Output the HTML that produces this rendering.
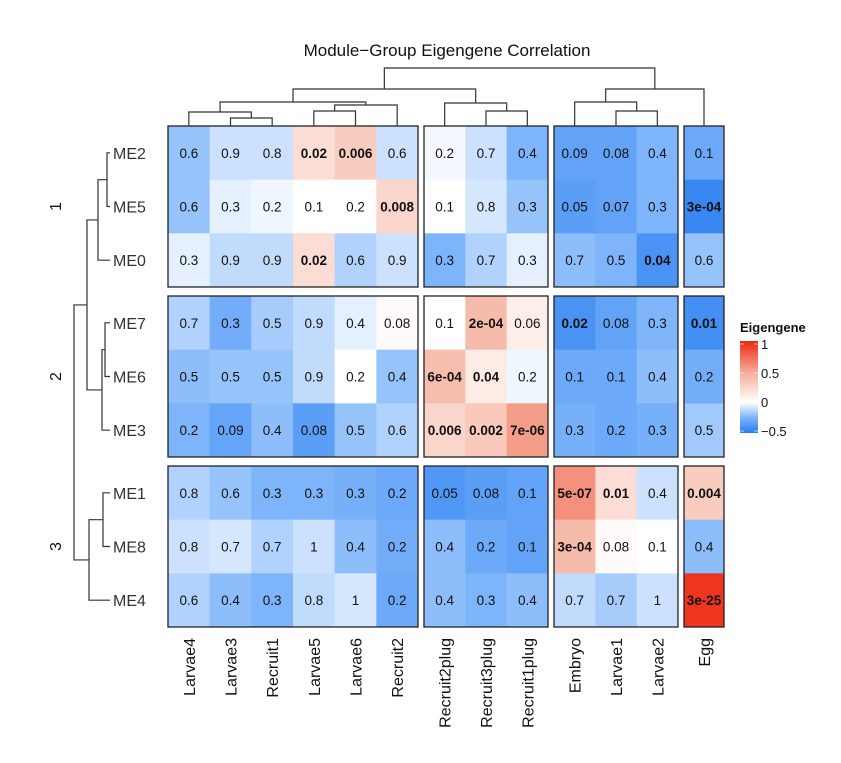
<!DOCTYPE html>
<html><head><meta charset="utf-8"><style>
body{margin:0;background:#fff;}
text{font-family:"Liberation Sans",Arial,sans-serif;}
</style></head><body>
<svg id="chart" width="841" height="758" xmlns="http://www.w3.org/2000/svg">
<text x="447" y="56" font-size="17" text-anchor="middle" fill="#111">Module−Group Eigengene Correlation</text>
<g id="cells"></g><g id="frames"></g><g id="dend" stroke="#333" stroke-width="1.2" fill="none"></g><g id="labels"></g>
<g>
<defs><linearGradient id="lg" x1="0" y1="1" x2="0" y2="0">
<stop offset="0" stop-color="rgb(40,125,240)"/><stop offset="0.167" stop-color="rgb(125,180,250)"/><stop offset="0.333" stop-color="#fff"/><stop offset="0.667" stop-color="rgb(245,170,150)"/><stop offset="1" stop-color="rgb(238,40,15)"/></linearGradient></defs>
<text x="740" y="332" font-size="13" font-weight="bold" fill="#111">Eigengene</text>
<rect x="740" y="341" width="18" height="92" fill="url(#lg)"/>
<g stroke="#fff" stroke-opacity="0.6"><line x1="740" x2="744" y1="344" y2="344"/><line x1="754" x2="758" y1="344" y2="344"/><line x1="740" x2="744" y1="373" y2="373"/><line x1="754" x2="758" y1="373" y2="373"/><line x1="740" x2="744" y1="402" y2="402"/><line x1="754" x2="758" y1="402" y2="402"/><line x1="740" x2="744" y1="431" y2="431"/><line x1="754" x2="758" y1="431" y2="431"/></g>
<g font-size="13" fill="#111"><text x="761" y="349">1</text><text x="761" y="378">0.5</text><text x="761" y="407">0</text><text x="761" y="436">−0.5</text></g>
</g>
</svg>
<script>
const cols=["Larvae4","Larvae3","Recruit1","Larvae5","Larvae6","Recruit2","Recruit2plug","Recruit3plug","Recruit1plug","Embryo","Larvae1","Larvae2","Egg"];
const rows=["ME2","ME5","ME0","ME7","ME6","ME3","ME1","ME8","ME4"];
const corr=[
[-0.2,-0.1,-0.1,0.2,0.3,-0.1,-0.02,-0.1,-0.25,-0.33,-0.33,-0.25,-0.3],
[-0.2,-0.05,-0.03,0,0,0.25,0,-0.08,-0.2,-0.35,-0.33,-0.25,-0.45],
[-0.05,-0.12,-0.12,0.2,-0.15,-0.1,-0.25,-0.15,-0.05,-0.22,-0.25,-0.4,-0.2],
[-0.15,-0.28,-0.17,-0.12,-0.05,0.03,0,0.4,0.1,-0.4,-0.33,-0.25,-0.42],
[-0.22,-0.2,-0.2,-0.12,0,-0.2,0.38,0.12,-0.03,-0.3,-0.3,-0.22,-0.28],
[-0.25,-0.32,-0.22,-0.35,-0.2,-0.15,0.25,0.32,0.55,-0.27,-0.3,-0.27,-0.18],
[-0.15,-0.2,-0.25,-0.25,-0.27,-0.3,-0.38,-0.35,-0.33,0.6,0.2,-0.1,0.3],
[-0.1,-0.08,-0.15,-0.1,-0.22,-0.28,-0.22,-0.3,-0.33,0.4,0.03,0,-0.22],
[-0.15,-0.22,-0.25,-0.12,-0.08,-0.3,-0.22,-0.25,-0.22,-0.12,-0.17,-0.1,0.95]];
const pvals=[
["0.6","0.9","0.8","0.02","0.006","0.6","0.2","0.7","0.4","0.09","0.08","0.4","0.1"],
["0.6","0.3","0.2","0.1","0.2","0.008","0.1","0.8","0.3","0.05","0.07","0.3","3e-04"],
["0.3","0.9","0.9","0.02","0.6","0.9","0.3","0.7","0.3","0.7","0.5","0.04","0.6"],
["0.7","0.3","0.5","0.9","0.4","0.08","0.1","2e-04","0.06","0.02","0.08","0.3","0.01"],
["0.5","0.5","0.5","0.9","0.2","0.4","6e-04","0.04","0.2","0.1","0.1","0.4","0.2"],
["0.2","0.09","0.4","0.08","0.5","0.6","0.006","0.002","7e-06","0.3","0.2","0.3","0.5"],
["0.8","0.6","0.3","0.3","0.3","0.2","0.05","0.08","0.1","5e-07","0.01","0.4","0.004"],
["0.8","0.7","0.7","1","0.4","0.2","0.4","0.2","0.1","3e-04","0.08","0.1","0.4"],
["0.6","0.4","0.3","0.8","1","0.2","0.4","0.3","0.4","0.7","0.7","1","3e-25"]];
const colBlocks=[[168,418,6],[424,548,3],[554,678,3],[684,724,1]];
const rowBlocks=[[126,287,3],[296,457,3],[466,627,3]];
const NS="http://www.w3.org/2000/svg";
function mk(t,a,p){const e=document.createElementNS(NS,t);for(const k in a)e.setAttribute(k,a[k]);p.appendChild(e);return e;}
const colX=[],colW=[];colBlocks.forEach(b=>{const w=(b[1]-b[0])/b[2];for(let i=0;i<b[2];i++){colX.push(b[0]+i*w);colW.push(w);}});
const rowY=[],rowH=[];rowBlocks.forEach(b=>{const h=(b[1]-b[0])/b[2];for(let i=0;i<b[2];i++){rowY.push(b[0]+i*h);rowH.push(h);}});
const stops=[[-0.5,[40,125,240]],[-0.25,[125,180,250]],[0,[255,255,255]],[0.5,[245,170,150]],[1,[238,40,15]]];
function color(v){v=Math.max(-0.5,Math.min(1,v));for(let i=0;i<stops.length-1;i++){const a=stops[i],b=stops[i+1];if(v<=b[0]){const t=(v-a[0])/(b[0]-a[0]);return 'rgb('+a[1].map((c,j)=>Math.round(c+(b[1][j]-c)*t)).join(',')+')';}}}
const cg=document.getElementById('cells'),fg=document.getElementById('frames'),lg=document.getElementById('labels'),dg=document.getElementById('dend');
rows.forEach((r,i)=>cols.forEach((c,j)=>{
 const rc=mk('rect',{x:colX[j],y:rowY[i],width:colW[j]+0.5,height:rowH[i]+0.5,fill:color(corr[i][j])},cg);
 
 
 const p=pvals[i][j];const bold=parseFloat(p)<0.05;
 const t=mk('text',{x:colX[j]+colW[j]/2,y:rowY[i]+rowH[i]/2+5,'font-size':13.5,'text-anchor':'middle',fill:'#111','font-weight':bold?'bold':'normal'},cg);
 t.textContent=p;
 
 
}));
rowBlocks.forEach(rb=>colBlocks.forEach(cb=>{const f=mk('rect',{x:cb[0],y:rb[0],width:cb[1]-cb[0],height:rb[1]-rb[0],fill:'none',stroke:'#222','stroke-width':1.3},fg);
 
 }));
rows.forEach((r,i)=>{const t=mk('text',{x:113,y:rowY[i]+rowH[i]/2+6,'font-size':16,fill:'#333'},lg);t.textContent=r;
 
 });
cols.forEach((c,j)=>{const x=colX[j]+colW[j]/2+6;const t=mk('text',{x:x,y:638,'font-size':16,fill:'#111','text-anchor':'end',transform:'rotate(-90 '+x+' 638)'},lg);t.textContent=c;
 
 });
["1","2","3"].forEach((s,k)=>{const y=(rowBlocks[k][0]+rowBlocks[k][1])/2;const t=mk('text',{x:61,y:y,'font-size':16,fill:'#111','text-anchor':'middle',transform:'rotate(-90 61 '+y+')'},lg);t.textContent=s;
 
 });
const cc=j=>colX[j]+colW[j]/2;
function cnode(n){if(typeof n==='number')return {x:cc(n),y:126};const a=cnode(n[0]),b=cnode(n[1]),h=n[2];
 mk('path',{d:`M${a.x},${a.y}V${h}H${b.x}V${b.y}`},dg);return {x:(a.x+b.x)/2,y:h};}
cnode([[[[0,[1,2,118],112],[[3,4,111],5,105],102],[6,[7,8,111],103],89],[[9,[10,11,111],102],12,89],68]);
const rc=i=>rowY[i]+rowH[i]/2;
function rnode(n){if(typeof n==='number')return {x:110,y:rc(n)};const a=rnode(n[0]),b=rnode(n[1]),h=n[2];
 mk('path',{d:`M${a.x},${a.y}H${h}V${b.y}H${b.x}`},dg);return {x:h,y:(a.y+b.y)/2};}
rnode([[[[0,1,107],2,98],[[3,4,105],5,102],87],[[6,7,103],8,89],74]);


</script>
</body></html>
